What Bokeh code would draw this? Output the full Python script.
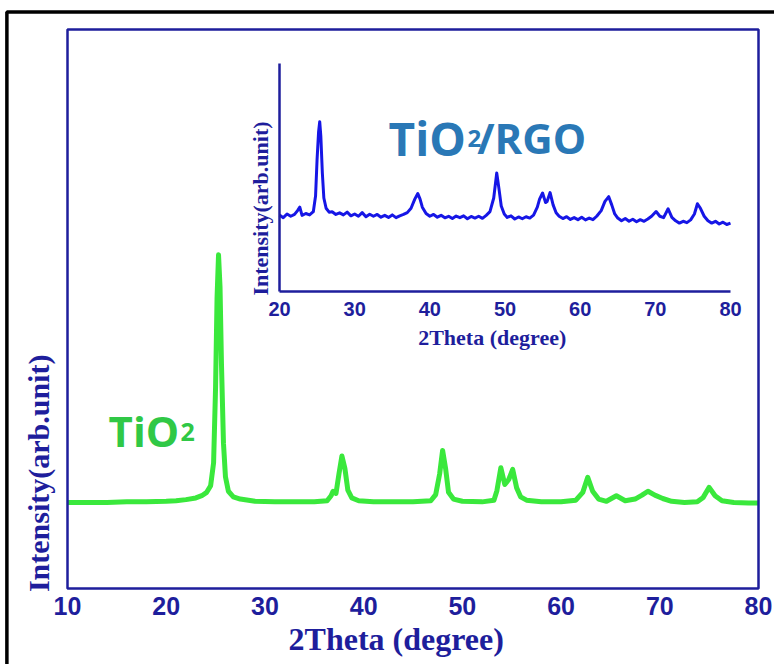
from math import pi
from bokeh.plotting import figure
from bokeh.models import Range1d, LinearAxis, Label, FixedTicker, BoxAnnotation
from bokeh.embed import file_html
from bokeh.resources import INLINE

# ---------------- data ----------------
tio2_theta = [10, 12, 14, 16, 18, 20, 21, 22, 23, 23.6, 24.1, 24.5, 24.8, 25.0, 25.15,
              25.3, 25.45, 25.6, 25.8, 26.0, 26.3, 26.8, 27.5, 29, 31, 33, 35, 36.3, 36.7,
              36.9, 37.2, 37.5, 37.8, 38.1, 38.4, 38.8, 39.5, 41, 43, 45, 46.8, 47.3, 47.7,
              48.0, 48.3, 48.6, 49.1, 50, 52, 53.2, 53.5, 53.9, 54.3, 54.7, 55.1, 55.5,
              55.9, 56.5, 58, 60, 61.5, 62.2, 62.7, 63.2, 63.8, 64.6, 65.6, 66.5, 67.5,
              68.2, 68.8, 69.5, 70.3, 71.2, 72.5, 73.8, 74.4, 75.0, 75.6, 76.3, 77.5, 79, 80]
tio2_int = [15.4, 15.4, 15.4, 15.5, 15.5, 15.6, 15.7, 15.9, 16.2, 16.6, 17.2, 18.4, 22.5, 36, 52,
            59.7, 54, 40, 26, 20, 17.4, 16.4, 16.0, 15.6, 15.5, 15.5, 15.5, 15.7, 16.6,
            17.4, 17.0, 20.5, 23.7, 21.5, 17.6, 16.2, 15.7, 15.5, 15.5, 15.5, 15.7, 16.8, 20.5,
            24.7, 21.5, 17.2, 16.0, 15.6, 15.5, 15.8, 17.5, 21.6, 18.6, 19.5, 21.3, 18.0,
            16.4, 15.8, 15.5, 15.5, 15.8, 17.2, 19.9, 17.4, 16.0, 15.6, 16.6, 15.7, 16.0,
            16.7, 17.4, 16.7, 16.1, 15.6, 15.4, 15.5, 16.3, 18.1, 16.6, 15.7, 15.4, 15.3, 15.3]

rgo_theta = [20.0, 20.5, 21.0, 21.5, 22.0, 22.4, 22.7, 23.0, 23.5, 24.0, 24.5, 24.8, 25.0, 25.2,
             25.35, 25.5, 25.7, 25.9, 26.2, 26.6, 27.0, 27.5, 28.0, 28.5, 29.0, 29.5, 30.0,
             30.5, 31.0, 31.5, 32.0, 32.5, 33.0, 33.5, 34.0, 34.5, 35.0, 35.5, 36.0, 36.5,
             37.0, 37.5, 38.0, 38.4, 38.7, 39.0, 39.5, 40.0, 40.5, 41.0, 41.5, 42.0, 42.5,
             43.0, 43.5, 44.0, 44.5, 45.0, 45.5, 46.0, 46.5, 47.0, 47.5, 48.0, 48.5, 48.9,
             49.2, 49.5, 49.9, 50.3, 50.8, 51.3, 51.8, 52.3, 52.8, 53.3, 53.8, 54.3, 54.6,
             55.0, 55.4, 55.6, 56.0, 56.4, 56.8, 57.2, 57.7, 58.2, 58.7, 59.2, 59.7, 60.2,
             60.7, 61.2, 61.7, 62.2, 62.8, 63.3, 63.8, 64.2, 64.6, 65.0, 65.5, 66.0, 66.5,
             67.0, 67.5, 68.0, 68.5, 69.0, 69.5, 70.1, 70.6, 71.1, 71.7, 72.2, 72.7, 73.2,
             73.7, 74.2, 74.7, 75.2, 75.6, 76.0, 76.5, 77.0, 77.5, 78.0, 78.5, 79.0, 79.5, 80.0]
rgo_int = [33.5, 32.4, 34.0, 33.0, 33.8, 35.5, 37.0, 33.4, 34.2, 33.6, 35.0, 42, 58, 70,
           74.5, 68, 52, 41, 36.5, 34.8, 35.0, 33.8, 34.5, 33.6, 34.8, 33.2, 34.0,
           33.0, 34.6, 32.8, 33.9, 33.0, 33.8, 32.6, 33.4, 32.5, 33.6, 32.4, 33.2, 33.8,
           34.6, 36.5, 40.5, 43.0, 40.5, 37.0, 34.2, 33.0, 33.8, 32.6, 33.4, 32.3, 33.0,
           32.0, 33.1, 32.4, 33.2, 31.9, 32.9, 32.2, 33.0, 32.1, 33.4, 35.0, 41.0, 52.0,
           45.0, 37.5, 34.0, 32.5, 33.2, 31.8, 32.7, 31.9, 32.8, 32.2, 33.5, 37.0, 40.5,
           43.2, 39.0, 39.5, 43.4, 38.0, 34.5, 33.0, 32.0, 32.8, 31.6, 32.4, 31.5, 32.6,
           31.4, 32.2, 31.5, 33.0, 35.5, 39.5, 41.6, 38.0, 34.0, 32.2, 31.0, 32.0, 30.8,
           31.7, 30.6, 31.5, 30.8, 31.8, 33.0, 35.1, 33.0, 32.4, 36.3, 32.5, 31.0, 30.0,
           30.8, 30.2, 31.4, 34.0, 38.5, 36.5, 33.0, 31.0, 30.0, 30.8, 29.6, 30.4, 29.4, 30.0]

main_ticks = [10, 20, 30, 40, 50, 60, 70, 80]
inset_ticks = [20, 30, 40, 50, 60, 70, 80]

NAVY = "#1e1e9c"
GREEN_LINE = "#3ae83c"
GREEN_TEXT = "#30c846"
BLUE_LINE = "#1616e6"
STEEL = "#2a78b6"

W, H = 774, 664

# pixel calibration of the two plotting boxes (layout only)
def span(v0, p0, v1, p1, lo_px, hi_px):
    k = (p1 - p0) / (v1 - v0)
    return v0 + (lo_px - p0) / k, v0 + (hi_px - p0) / k

mx0, mx1 = span(10, 67, 80, 758, 0, W)
my0, my1 = span(0, 588, 100, 29, H, 0)
ix0, ix1 = span(20, 279, 80, 730, 0, W)
iy0, iy1 = span(0, 291, 100, 63, H, 0)

p = figure(width=W, height=H, output_backend="svg", toolbar_location=None,
           x_range=Range1d(mx0, mx1), y_range=Range1d(my0, my1),
           x_axis_type=None, y_axis_type=None,
           min_border=0, min_border_left=0, min_border_right=0,
           min_border_top=0, min_border_bottom=0,
           background_fill_color="white", border_fill_color="white")
p.xgrid.visible = False
p.ygrid.visible = False
p.outline_line_color = None

p.extra_x_ranges = {"ix": Range1d(ix0, ix1)}
p.extra_y_ranges = {"iy": Range1d(iy0, iy1)}

# main x axis
xa = LinearAxis(fixed_location=0, bounds=(10, 80), ticker=FixedTicker(ticks=main_ticks))
xa.axis_line_color = None
xa.major_tick_line_color = None
xa.minor_tick_line_color = None
xa.major_tick_out = 0
xa.major_tick_in = 0
xa.major_label_standoff = 8
xa.major_label_text_font = "Liberation Sans"
xa.major_label_text_font_style = "bold"
xa.major_label_text_font_size = "25px"
xa.major_label_text_color = NAVY
p.add_layout(xa, "below")

# inset axes
ixa = LinearAxis(x_range_name="ix", y_range_name="iy", fixed_location=0, bounds=(20, 80),
                 ticker=FixedTicker(ticks=inset_ticks))
ixa.axis_line_color = NAVY
ixa.axis_line_width = 2.5
ixa.major_tick_line_color = None
ixa.minor_tick_line_color = None
ixa.major_tick_out = 0
ixa.major_tick_in = 0
ixa.major_label_standoff = 10
ixa.major_label_text_font = "Liberation Sans"
ixa.major_label_text_font_style = "bold"
ixa.major_label_text_font_size = "20px"
ixa.major_label_text_color = NAVY
p.add_layout(ixa, "below")

iya = LinearAxis(x_range_name="ix", y_range_name="iy", fixed_location=20, bounds=(0, 100),
                 ticker=FixedTicker(ticks=[]))
iya.axis_line_color = NAVY
iya.axis_line_width = 2.5
iya.major_tick_line_color = None
iya.minor_tick_line_color = None
iya.major_tick_out = 0
iya.major_tick_in = 0
p.add_layout(iya, "left")

# main plot box and outer black border of the pasted figure
p.add_layout(BoxAnnotation(left=10, right=80, bottom=0, top=100, fill_color=None,
                           fill_alpha=0, line_color=NAVY, line_alpha=1.0, line_width=2.5))
p.add_layout(BoxAnnotation(left=3.86, right=95, top=103.13, bottom=-30,
                           fill_color=None, fill_alpha=0, line_color="black",
                           line_alpha=1.0, line_width=3.5))

# curves
p.line(tio2_theta, tio2_int, line_color=GREEN_LINE, line_width=5, line_join="round")
p.line(rgo_theta, rgo_int, x_range_name="ix", y_range_name="iy",
       line_color=BLUE_LINE, line_width=3, line_join="round")

# main axis titles
p.add_layout(Label(x=43.3, y=-9.0, text="2Theta (degree)", text_align="center",
                   text_baseline="alphabetic", text_font="Liberation Serif",
                   text_font_style="bold", text_font_size="32px", text_color=NAVY))
p.add_layout(Label(x=7.06, y=20.6, text="Intensity(arb.unit)", angle=pi / 2,
                   text_align="center", text_baseline="middle", text_font="Liberation Serif",
                   text_font_style="bold", text_font_size="30px", text_color=NAVY))

# inset axis titles
p.add_layout(Label(x=48.3, y=-20.2, x_range_name="ix", y_range_name="iy",
                   text="2Theta (degree)", text_align="center", text_baseline="middle",
                   text_font="Liberation Serif", text_font_style="bold",
                   text_font_size="22px", text_color=NAVY))
p.add_layout(Label(x=17.5, y=36.4, x_range_name="ix", y_range_name="iy",
                   text="Intensity(arb.unit)", angle=pi / 2, text_align="center",
                   text_baseline="middle", text_font="Liberation Serif",
                   text_font_style="bold", text_font_size="22px", text_color=NAVY))

# sample labels
p.add_layout(Label(x=14.16, y=28.3, text="TiO", text_baseline="alphabetic",
                   text_font="Open Sans", text_font_style="bold", text_font_size="42px",
                   text_color=GREEN_TEXT))
p.add_layout(Label(x=21.45, y=28.0, text="2", text_baseline="alphabetic",
                   text_font="Open Sans", text_font_style="bold", text_font_size="25px",
                   text_color=GREEN_TEXT))
p.add_layout(Label(x=34.5, y=67.5, x_range_name="ix", y_range_name="iy", text="TiO",
                   text_baseline="alphabetic", text_font="Open Sans", text_font_style="bold",
                   text_font_size="46px", text_color=STEEL))
p.add_layout(Label(x=45.0, y=67.2, x_range_name="ix", y_range_name="iy", text="2",
                   text_baseline="alphabetic", text_font="Open Sans", text_font_style="bold",
                   text_font_size="24px", text_color=STEEL))
p.add_layout(Label(x=46.3, y=67.5, x_range_name="ix", y_range_name="iy", text="/RGO",
                   text_baseline="alphabetic", text_font="Open Sans", text_font_style="bold",
                   text_font_size="42px", text_color=STEEL))

open("out.html", "w").write(file_html(p, INLINE))
